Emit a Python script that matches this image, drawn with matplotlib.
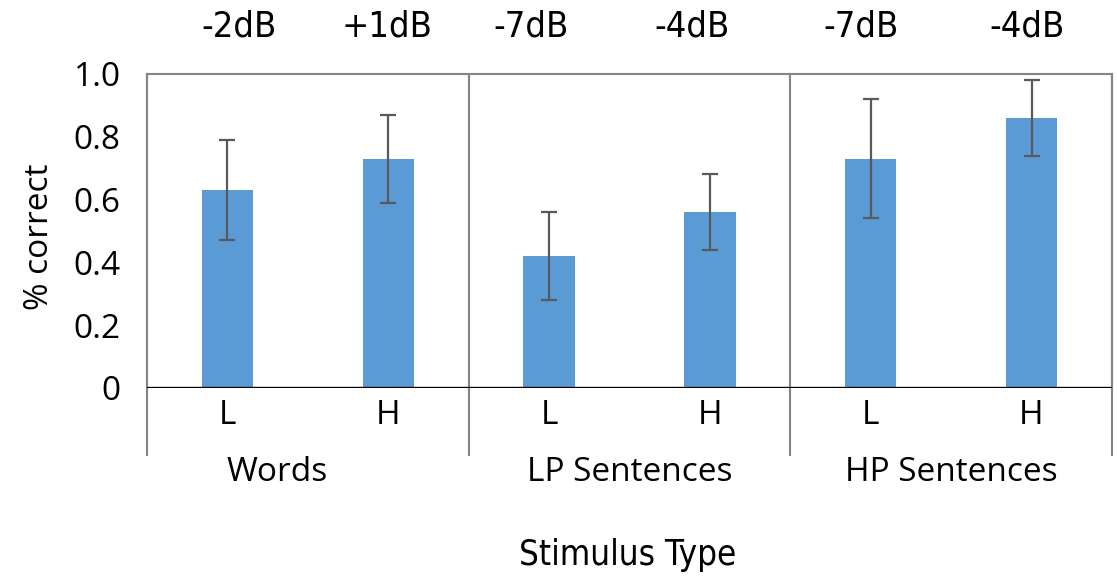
import numpy as np
from matplotlib import pyplot as plt
from matplotlib.lines import Line2D

groups = ["Words", "LP Sentences", "HP Sentences"]
levels = ["L", "H", "L", "H", "L", "H"]
snr_labels = ["-2dB", "+1dB", "-7dB", "-4dB", "-7dB", "-4dB"]
pct_correct = [0.63, 0.73, 0.42, 0.56, 0.73, 0.86]
pct_error = [0.16, 0.14, 0.14, 0.12, 0.19, 0.12]
y_ticks = [0, 0.2, 0.4, 0.6, 0.8, 1.0]
y_tick_labels = ["0", "0.2", "0.4", "0.6", "0.8", "1.0"]

BAR_COLOR = "#5b9bd5"
ERR_COLOR = "#595959"
FRAME_COLOR = "#858585"
AXIS_FONT = ["Open Sans", "DejaVu Sans"]
NARROW_FONT = "DejaVu Sans"

# hand nudges for the header and group captions (x units)
snr_nudge = [0.07, -0.01, -0.11, -0.11, -0.06, -0.03]
group_nudge = [-0.19, 0.0, 0.0]

fig = plt.figure(figsize=(11.17, 5.79), dpi=100)
ax = fig.add_axes([0.1316, 0.3299, 0.8639, 0.5423])

x = np.arange(len(pct_correct)) + 0.5
ax.bar(x, pct_correct, width=0.32, color=BAR_COLOR, zorder=2)
ax.errorbar(x, pct_correct, yerr=pct_error, fmt="none", ecolor=ERR_COLOR,
            elinewidth=1.6, capsize=5.5, capthick=1.6, zorder=3)

ax.set_xlim(0, len(pct_correct))
ax.set_ylim(0, 1.0)
ax.set_yticks(y_ticks)
ax.set_yticklabels(y_tick_labels, fontsize=24, family=AXIS_FONT)
ax.tick_params(axis="y", length=0, pad=19)
ax.set_xticks([])

for side in ["top", "left", "right"]:
    ax.spines[side].set_color(FRAME_COLOR)
    ax.spines[side].set_linewidth(1.5)
ax.spines["bottom"].set_visible(False)
ax.axhline(0, color="black", linewidth=2.4, zorder=4)

# group dividers run from the top of the frame down past the category labels
for gx in range(0, len(pct_correct) + 1, 2):
    ax.add_line(Line2D([gx, gx], [1.0, -0.215], color=FRAME_COLOR,
                       linewidth=1.5, clip_on=False))

for xi, lev, snr, dx in zip(x, levels, snr_labels, snr_nudge):
    ax.text(xi, -0.088, lev, ha="center", va="center", fontsize=24,
            family=AXIS_FONT)
    ax.text(xi + dx, 1.15, snr, ha="center", va="center", fontsize=26,
            family=NARROW_FONT, stretch="condensed")

for i, (name, dx) in enumerate(zip(groups, group_nudge)):
    ax.text(2 * i + 1 + dx, -0.27, name, ha="center", va="center",
            fontsize=24, family=AXIS_FONT)

ax.set_ylabel("% correct", fontsize=24, family=AXIS_FONT)
ax.yaxis.set_label_coords(-0.094, 0.48)
fig.text(0.562, 0.041, "Stimulus Type", ha="center", va="center",
         fontsize=25, family=NARROW_FONT, stretch="condensed")

fig.savefig("out.png", dpi=100)
